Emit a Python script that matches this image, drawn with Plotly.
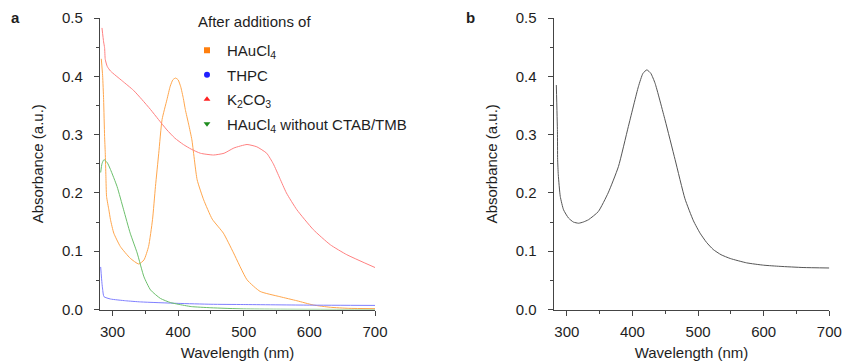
import plotly.graph_objects as go

# ---------------- data ----------------
# Panel a
wl_hau = [283, 285, 286.5, 288, 289, 290, 291, 294.5, 297, 302, 312, 327, 340, 348, 355, 361, 365.5,
          370.5, 375.6, 383, 388, 392, 396, 400, 404, 408, 411, 416, 421, 429, 439, 452, 469, 484.5,
          505, 525, 555, 581, 606, 632, 660, 700]
ab_hau = [0.43, 0.401, 0.36, 0.297, 0.269, 0.228, 0.194, 0.171, 0.154, 0.131, 0.108, 0.088, 0.078, 0.085,
          0.108, 0.154, 0.211, 0.268, 0.326, 0.36, 0.383, 0.394, 0.397, 0.394, 0.382, 0.362, 0.343, 0.318,
          0.291, 0.2225, 0.188, 0.155, 0.131, 0.097, 0.051, 0.031, 0.022, 0.015, 0.0077, 0.0038, 0.002,
          0.0015]

wl_thpc = [282, 284, 285, 287, 297, 320, 343, 400, 450, 500, 600, 700]
ab_thpc = [0.073, 0.045, 0.035, 0.022, 0.018, 0.015, 0.013, 0.0105, 0.009, 0.0085, 0.0075, 0.007]

wl_k2co3 = [284, 286.5, 288, 289, 292, 297, 315, 332, 345, 358, 370, 383, 395, 408, 420, 434, 454, 470,
            485, 505, 520, 535, 545, 555, 565, 581, 606, 632, 657, 700]
ab_k2co3 = [0.483, 0.459, 0.449, 0.429, 0.417, 0.409, 0.392, 0.376, 0.36, 0.343, 0.326, 0.308, 0.294,
            0.283, 0.275, 0.268, 0.265, 0.268, 0.277, 0.283, 0.279, 0.268, 0.25, 0.225, 0.2, 0.171, 0.137,
            0.111, 0.094, 0.072]

wl_noctab = [282, 284, 287, 292, 297, 307, 317, 327, 337.6, 348, 358, 373, 388, 400, 420, 450, 500, 550, 700]
ab_noctab = [0.235, 0.25, 0.257, 0.252, 0.24, 0.211, 0.171, 0.131, 0.097, 0.056, 0.0335, 0.019, 0.012,
             0.009, 0.005, 0.003, 0.001, 0.0005, 0.0]

# Panel b
wl_b = [284, 285.7, 286, 287, 290, 295, 302.5, 310, 318, 325, 333, 348, 363, 378.6, 393.8, 409, 416, 422,
        428, 434.5, 449.7, 465, 480, 493, 503, 513, 523, 535, 549, 574, 600, 625, 660, 700]
ab_b = [0.385, 0.305, 0.257, 0.231, 0.194, 0.171, 0.157, 0.15, 0.148, 0.15, 0.154, 0.168, 0.2, 0.245,
        0.314, 0.382, 0.405, 0.411, 0.405, 0.388, 0.325, 0.257, 0.19, 0.152, 0.131, 0.115, 0.103, 0.094,
        0.0875, 0.08, 0.076, 0.074, 0.072, 0.0712]

legend_names = ["HAuCl<sub>4</sub>", "THPC", "K<sub>2</sub>CO<sub>3</sub>",
                "HAuCl<sub>4</sub> without CTAB/TMB"]

x_ticks = [300, 400, 500, 600, 700]
y_ticks = [0.0, 0.1, 0.2, 0.3, 0.4, 0.5]
y_ticklabels = ["0.0", "0.1", "0.2", "0.3", "0.4", "0.5"]

# ---------------- styling ----------------
FONT = "Liberation Sans, Arial, sans-serif"
TXT = "#1e1e1e"
line_cols = ["#FFA64D", "#7F7FFF", "#FF8080", "#6CBF6C"]
mark_cols = ["#FF7F0E", "#1F1FFF", "#FF2020", "#1E8C1E"]
symbols = ["square", "circle", "triangle-up", "triangle-down"]

fig = go.Figure()

series = [(wl_hau, ab_hau), (wl_thpc, ab_thpc), (wl_k2co3, ab_k2co3), (wl_noctab, ab_noctab)]
for (xs, ys), c in zip(series, line_cols):
    fig.add_trace(go.Scatter(x=xs, y=ys, mode="lines", line=dict(color=c, width=1, shape="spline", smoothing=0.5),
                             showlegend=False, xaxis="x", yaxis="y", hoverinfo="skip"))

for name, c, s in zip(legend_names, mark_cols, symbols):
    fig.add_trace(go.Scatter(x=[None], y=[None], mode="markers", name=name,
                             marker=dict(color=c, symbol=s, size=6), legendgroup=name,
                             xaxis="x", yaxis="y"))

fig.add_trace(go.Scatter(x=wl_b, y=ab_b, mode="lines", line=dict(color="#555555", width=1, shape="spline", smoothing=0.5),
                         showlegend=False, xaxis="x2", yaxis="y2", hoverinfo="skip"))

W, H = 844, 362
def px(x):
    return x / W
def py(y):
    return 1 - y / H

axis_common = dict(
    showline=True, linecolor="#444444", linewidth=1.3, ticks="outside", ticklen=5, tickwidth=1.2,
    tickcolor="#444444", showgrid=False, zeroline=False, mirror=False, automargin=False,
    tickfont=dict(family=FONT, size=15, color=TXT),
)
xa = dict(axis_common, range=[281, 700], tickvals=x_ticks, ticklabelstandoff=3,
          minor=dict(dtick=50, tick0=300, ticks="outside", ticklen=3, tickcolor="#444444", tickwidth=1),
          title=dict(text="Wavelength (nm)", font=dict(family=FONT, size=15, color=TXT), standoff=8))
ya = dict(axis_common, range=[0, 0.5], tickvals=y_ticks, ticktext=y_ticklabels, ticklabelstandoff=8,
          minor=dict(dtick=0.05, tick0=0, ticks="outside", ticklen=3, tickcolor="#444444", tickwidth=1),
          title=dict(text="Absorbance (a.u.)", font=dict(family=FONT, size=15, color=TXT), standoff=14))

fig.update_layout(
    width=W, height=H,
    margin=dict(l=0, r=0, t=0, b=0, autoexpand=False),
    paper_bgcolor="white", plot_bgcolor="white",
    font=dict(family=FONT, size=15, color=TXT),
    xaxis=dict(xa, domain=[px(100), px(375)], anchor="y"),
    yaxis=dict(ya, domain=[py(309.5), py(18)], anchor="x"),
    xaxis2=dict(xa, domain=[px(553.7), px(829.3)], anchor="y2", range=[280, 700]),
    yaxis2=dict(ya, domain=[py(309.5), py(18)], anchor="x2"),
    legend=dict(x=px(187), y=py(34), xanchor="left", yanchor="top", bgcolor="rgba(0,0,0,0)",
                font=dict(family=FONT, size=15, color=TXT), tracegroupgap=2,
                traceorder="grouped", itemwidth=30),
    annotations=[
        dict(text="After additions of", x=px(196), y=py(21), xref="paper", yref="paper",
             xanchor="left", yanchor="middle", showarrow=False,
             font=dict(family=FONT, size=15, color=TXT)),
        dict(text="<b>a</b>", x=px(15.5), y=py(18), xref="paper", yref="paper",
             xanchor="center", yanchor="middle", showarrow=False,
             font=dict(family=FONT, size=15, color=TXT)),
        dict(text="<b>b</b>", x=px(470.5), y=py(18), xref="paper", yref="paper",
             xanchor="center", yanchor="middle", showarrow=False,
             font=dict(family=FONT, size=15, color=TXT)),
    ],
)

# remove the browser's default page margin so the figure fills the window exactly
fig.write_html("out.html", config={"displayModeBar": False},
               post_script="document.body.style.margin='0';")
